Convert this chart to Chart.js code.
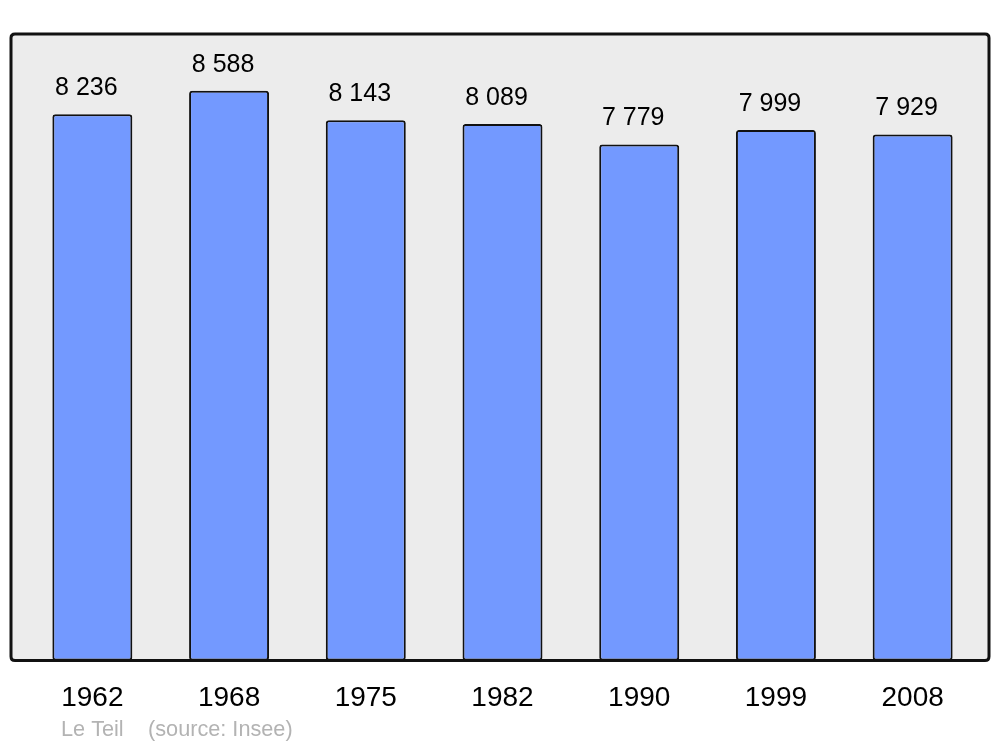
<!DOCTYPE html>
<html>
<head>
<meta charset="utf-8">
<script src="https://cdn.jsdelivr.net/npm/chart.js@4/dist/chart.umd.min.js"></script>
<style>
html,body{margin:0;padding:0;background:#fff;}
#wrap{width:1000px;height:747px;position:relative;}
</style>
</head>
<body>
<div id="wrap"><canvas id="c" width="1000" height="747"></canvas></div>
<script>
const years = ["1962", "1968", "1975", "1982", "1990", "1999", "2008"];
const population = [8236, 8588, 8143, 8089, 7779, 7999, 7929];
const valueLabels = ["8 236", "8 588", "8 143", "8 089", "7 779", "7 999", "7 929"];
const footerPlace = "Le Teil";
const footerSource = "(source: Insee)";

const FONT = '"Liberation Sans", Arial, sans-serif';

const boxPlugin = {
  id: 'box',
  beforeDraw(chart) {
    const ctx = chart.ctx;
    const x0 = 11, y0 = 34, x1 = 989, y1 = chart.chartArea.bottom;
    const r = 4;
    ctx.save();
    ctx.beginPath();
    ctx.moveTo(x0 + r, y0);
    ctx.lineTo(x1 - r, y0);
    ctx.quadraticCurveTo(x1, y0, x1, y0 + r);
    ctx.lineTo(x1, y1 - r);
    ctx.quadraticCurveTo(x1, y1, x1 - r, y1);
    ctx.lineTo(x0 + r, y1);
    ctx.quadraticCurveTo(x0, y1, x0, y1 - r);
    ctx.lineTo(x0, y0 + r);
    ctx.quadraticCurveTo(x0, y0, x0 + r, y0);
    ctx.closePath();
    ctx.fillStyle = '#ececec';
    ctx.fill();
    ctx.lineWidth = 3;
    ctx.strokeStyle = '#111111';
    ctx.stroke();
    ctx.restore();
  },
  afterDraw(chart) {
    const ctx = chart.ctx;
    const meta = chart.getDatasetMeta(0);
    ctx.save();
    ctx.fillStyle = '#000';
    ctx.font = '25px ' + FONT;
    ctx.textAlign = 'center';
    ctx.textBaseline = 'middle';
    meta.data.forEach((bar, i) => {
      ctx.fillText(valueLabels[i], bar.x - 6, bar.y - 26);
    });
    ctx.fillStyle = '#b3b3b3';
    ctx.font = '21.7px ' + FONT;
    ctx.textAlign = 'left';
    ctx.fillText(footerPlace, 61, 730);
    ctx.fillText(footerSource, 148, 730);
    ctx.restore();
  }
};

new Chart(document.getElementById('c'), {
  type: 'bar',
  data: {
    labels: years,
    datasets: [{
      data: population,
      backgroundColor: '#7399ff',
      borderColor: '#111111',
      borderWidth: 2,
      borderRadius: 3,
      borderSkipped: false,
      barPercentage: 0.585,
      categoryPercentage: 1.0
    }]
  },
  options: {
    responsive: false,
    animation: false,
    devicePixelRatio: 1,
    layout: { padding: { left: 24, right: 19, top: 34, bottom: 11 } },
    plugins: { legend: { display: false }, tooltip: { enabled: false }, title: { display: false } },
    scales: {
      x: {
        grid: { display: false, drawTicks: false },
        border: { display: false },
        ticks: { color: '#000', font: { family: FONT, size: 28 }, padding: 21, maxRotation: 0 }
      },
      y: {
        display: false,
        min: 0,
        max: 9445
      }
    }
  },
  plugins: [boxPlugin]
});
</script>
</body>
</html>
